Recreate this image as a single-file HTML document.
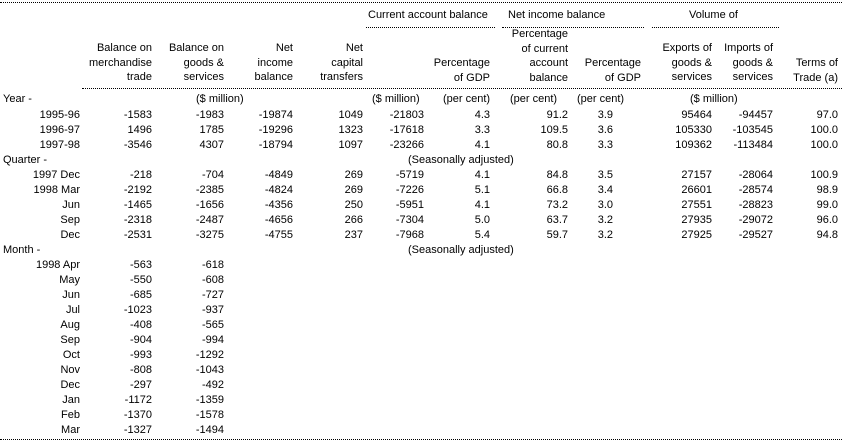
<!DOCTYPE html>
<html><head><meta charset="utf-8"><style>
body{margin:0;width:842px;height:441px;background:#fff;position:relative;overflow:hidden;font-family:"Liberation Sans",Arial,sans-serif;font-size:11px;color:#000}
.r{position:absolute;left:0;width:842px;height:14px;line-height:14px}
.r span{position:absolute;white-space:nowrap;text-align:right}
.l{left:3px}
.y{right:762px}
.a{right:690px}.b{right:618px}.c{right:549px}.d{right:479px}.e{right:418px}.f{right:352px}.g{right:274px}.h{right:229px}.i{right:130px}.j{right:69px}.k{right:4px}
.h2{position:absolute;line-height:14.5px;text-align:right;white-space:nowrap}
.dl{position:absolute;height:0;border-top:1px dotted #000}
.ct{position:absolute;white-space:nowrap;line-height:14px}
</style></head><body>
<div class="dl" style="left:0;width:842px;top:2px"></div>
<div class="ct" style="left:368px;top:8px">Current account balance</div>
<div class="ct" style="left:508px;top:8px">Net income balance</div>
<div class="ct" style="left:689px;top:8px">Volume of</div>
<div class="dl" style="left:366px;width:129px;top:27px"></div>
<div class="dl" style="left:502px;width:142px;top:27px"></div>
<div class="dl" style="left:652px;width:127px;top:27px"></div>

<div class="h2" style="right:690px;top:41px">Balance on<br>merchandise<br>trade</div>
<div class="h2" style="right:618px;top:41px">Balance on<br>goods &amp;<br>services</div>
<div class="h2" style="right:549px;top:41px">Net<br>income<br>balance</div>
<div class="h2" style="right:479px;top:41px">Net<br>capital<br>transfers</div>
<div class="h2" style="right:352px;top:56px">Percentage<br>of GDP</div>
<div class="h2" style="right:274px;top:27px">Percentage<br>of current<br>account<br>balance</div>
<div class="h2" style="right:201px;top:56px">Percentage<br>of GDP</div>
<div class="h2" style="right:130px;top:41px">Exports of<br>goods &amp;<br>services</div>
<div class="h2" style="right:69px;top:41px">Imports of<br>goods &amp;<br>services</div>
<div class="h2" style="right:4px;top:56px">Terms of<br>Trade (a)</div>
<div class="dl" style="left:82px;width:760px;top:88px"></div>

<div class="r" style="top:92px"><span class="l">Year -</span><span style="left:196px">($ million)</span><span style="left:372px">($ million)</span><span style="left:443px">(per cent)</span><span style="left:510px">(per cent)</span><span style="left:577px">(per cent)</span><span style="left:690px">($ million)</span></div>
<div class="r" style="top:108px"><span class="y">1995-96</span><span class="a">-1583</span><span class="b">-1983</span><span class="c">-19874</span><span class="d">1049</span><span class="e">-21803</span><span class="f">4.3</span><span class="g">91.2</span><span class="h">3.9</span><span class="i">95464</span><span class="j">-94457</span><span class="k">97.0</span></div>
<div class="r" style="top:123px"><span class="y">1996-97</span><span class="a">1496</span><span class="b">1785</span><span class="c">-19296</span><span class="d">1323</span><span class="e">-17618</span><span class="f">3.3</span><span class="g">109.5</span><span class="h">3.6</span><span class="i">105330</span><span class="j">-103545</span><span class="k">100.0</span></div>
<div class="r" style="top:138px"><span class="y">1997-98</span><span class="a">-3546</span><span class="b">4307</span><span class="c">-18794</span><span class="d">1097</span><span class="e">-23266</span><span class="f">4.1</span><span class="g">80.8</span><span class="h">3.3</span><span class="i">109362</span><span class="j">-113484</span><span class="k">100.0</span></div>
<div class="r" style="top:153px"><span class="l">Quarter -</span><span style="left:408px">(Seasonally adjusted)</span></div>
<div class="r" style="top:168px"><span class="y">1997 Dec</span><span class="a">-218</span><span class="b">-704</span><span class="c">-4849</span><span class="d">269</span><span class="e">-5719</span><span class="f">4.1</span><span class="g">84.8</span><span class="h">3.5</span><span class="i">27157</span><span class="j">-28064</span><span class="k">100.9</span></div>
<div class="r" style="top:183px"><span class="y">1998 Mar</span><span class="a">-2192</span><span class="b">-2385</span><span class="c">-4824</span><span class="d">269</span><span class="e">-7226</span><span class="f">5.1</span><span class="g">66.8</span><span class="h">3.4</span><span class="i">26601</span><span class="j">-28574</span><span class="k">98.9</span></div>
<div class="r" style="top:198px"><span class="y">Jun</span><span class="a">-1465</span><span class="b">-1656</span><span class="c">-4356</span><span class="d">250</span><span class="e">-5951</span><span class="f">4.1</span><span class="g">73.2</span><span class="h">3.0</span><span class="i">27551</span><span class="j">-28823</span><span class="k">99.0</span></div>
<div class="r" style="top:213px"><span class="y">Sep</span><span class="a">-2318</span><span class="b">-2487</span><span class="c">-4656</span><span class="d">266</span><span class="e">-7304</span><span class="f">5.0</span><span class="g">63.7</span><span class="h">3.2</span><span class="i">27935</span><span class="j">-29072</span><span class="k">96.0</span></div>
<div class="r" style="top:228px"><span class="y">Dec</span><span class="a">-2531</span><span class="b">-3275</span><span class="c">-4755</span><span class="d">237</span><span class="e">-7968</span><span class="f">5.4</span><span class="g">59.7</span><span class="h">3.2</span><span class="i">27925</span><span class="j">-29527</span><span class="k">94.8</span></div>
<div class="r" style="top:243px"><span class="l">Month -</span><span style="left:408px">(Seasonally adjusted)</span></div>
<div class="r" style="top:258px"><span class="y">1998 Apr</span><span class="a">-563</span><span class="b">-618</span></div>
<div class="r" style="top:273px"><span class="y">May</span><span class="a">-550</span><span class="b">-608</span></div>
<div class="r" style="top:288px"><span class="y">Jun</span><span class="a">-685</span><span class="b">-727</span></div>
<div class="r" style="top:303px"><span class="y">Jul</span><span class="a">-1023</span><span class="b">-937</span></div>
<div class="r" style="top:318px"><span class="y">Aug</span><span class="a">-408</span><span class="b">-565</span></div>
<div class="r" style="top:333px"><span class="y">Sep</span><span class="a">-904</span><span class="b">-994</span></div>
<div class="r" style="top:348px"><span class="y">Oct</span><span class="a">-993</span><span class="b">-1292</span></div>
<div class="r" style="top:363px"><span class="y">Nov</span><span class="a">-808</span><span class="b">-1043</span></div>
<div class="r" style="top:378px"><span class="y">Dec</span><span class="a">-297</span><span class="b">-492</span></div>
<div class="r" style="top:393px"><span class="y">Jan</span><span class="a">-1172</span><span class="b">-1359</span></div>
<div class="r" style="top:408px"><span class="y">Feb</span><span class="a">-1370</span><span class="b">-1578</span></div>
<div class="r" style="top:423px"><span class="y">Mar</span><span class="a">-1327</span><span class="b">-1494</span></div>
<div class="dl" style="left:0;width:842px;top:439px"></div>
</body></html>
